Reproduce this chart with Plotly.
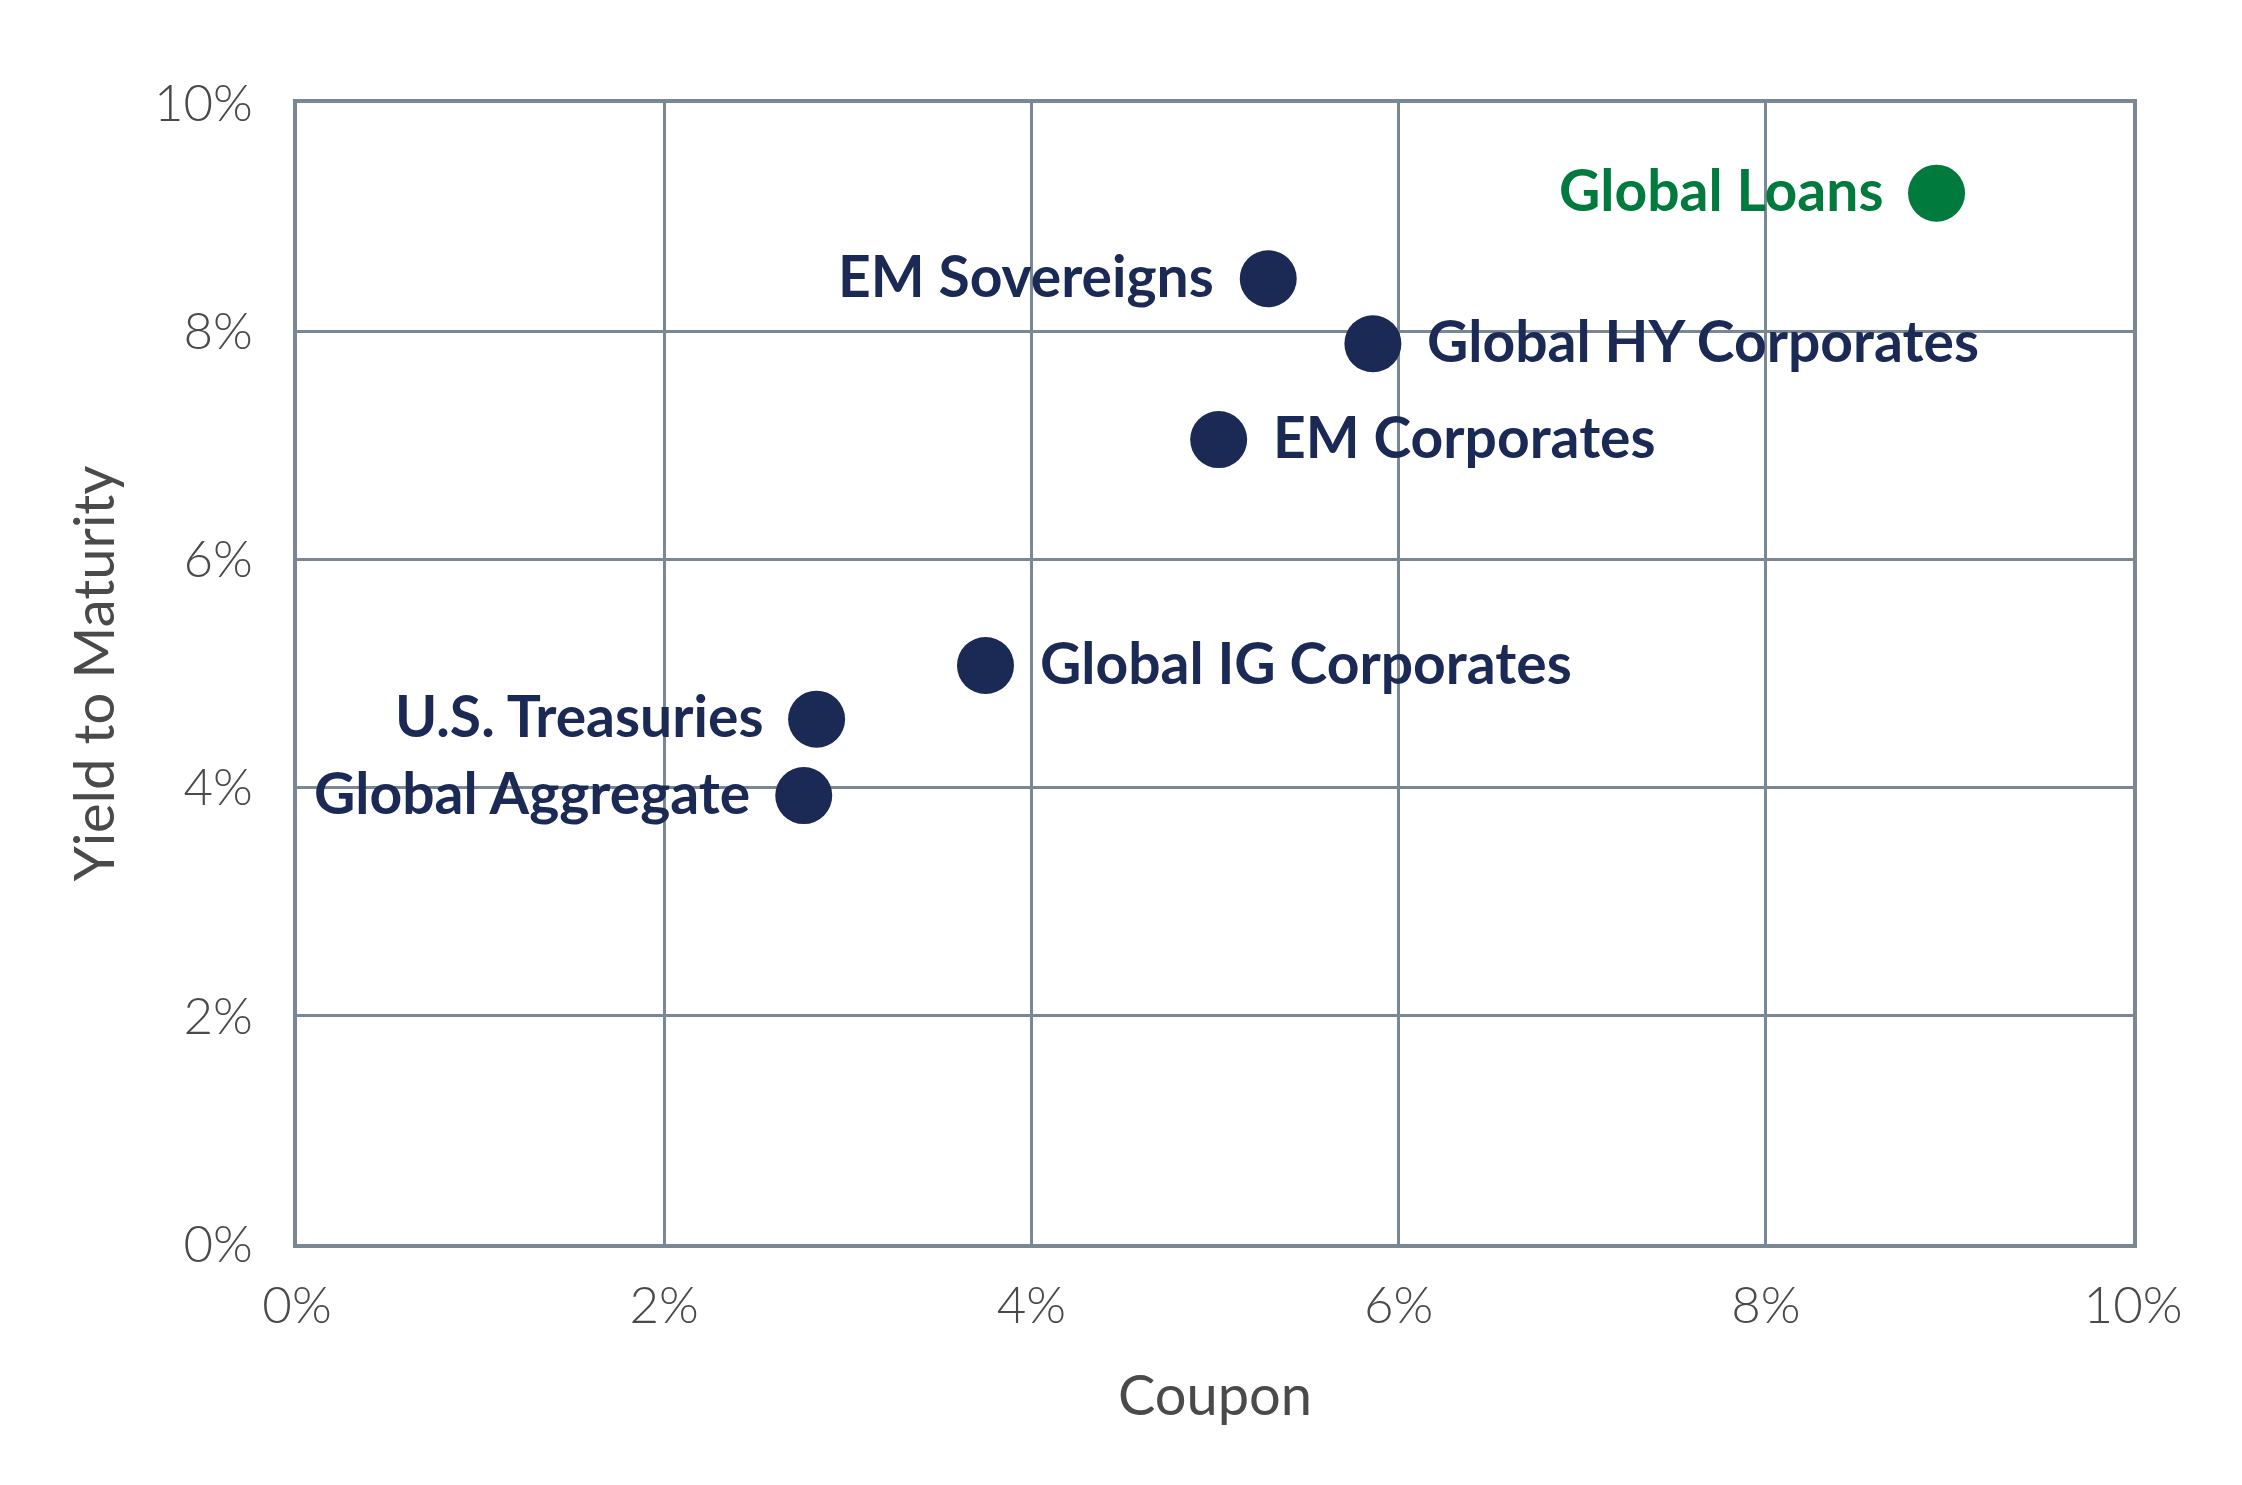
import plotly.graph_objects as go

# Dados
nomes = ["EM Sovereigns", "Global HY Corporates", "EM Corporates",
         "Global IG Corporates", "U.S. Treasuries", "Global Aggregate"]
cupom = [5.29, 5.86, 5.02, 3.75, 2.83, 2.76]
ytm = [8.46, 7.89, 7.05, 5.07, 4.60, 3.93]
lado = ["left", "right", "right", "right", "left", "left"]

loans_nome = ["Global Loans"]
loans_cupom = [8.93]
loans_ytm = [9.21]
loans_lado = ["left"]

ticks = [0, 2, 4, 6, 8, 10]
tick_txt = ["0%", "2%", "4%", "6%", "8%", "10%"]

azul = "#1b2a55"
verde = "#007a3d"
grade = "#7a8896"
cinza = "#4a4a4a"

fig = go.Figure()

fig.add_trace(go.Scatter(
    x=cupom, y=ytm, mode="markers",
    marker=dict(size=57, color=azul),
    cliponaxis=False, showlegend=False, hovertext=nomes,
))

fig.add_trace(go.Scatter(
    x=loans_cupom, y=loans_ytm, mode="markers",
    marker=dict(size=57, color=verde),
    cliponaxis=False, showlegend=False, hovertext=loans_nome,
))

# Rótulos ao lado dos pontos
def rotulos(xs, ys, textos, lados, cor):
    for x, y, t, l in zip(xs, ys, textos, lados):
        fig.add_annotation(
            x=x, y=y, text=t, showarrow=False,
            xanchor="right" if l == "left" else "left", yanchor="middle",
            xshift=-52 if l == "left" else 52, yshift=4,
            font=dict(family="Lato", size=57, color=cor, weight=700),
        )

rotulos(cupom, ytm, nomes, lado, azul)
rotulos(loans_cupom, loans_ytm, loans_nome, loans_lado, verde)

eixo = dict(
    range=[0, 10], tickvals=ticks, ticktext=tick_txt,
    showgrid=True, gridcolor=grade, gridwidth=3,
    zeroline=False, showline=True, linecolor=grade, linewidth=4, mirror=True,
    tickfont=dict(family="Lato", size=51, color=cinza, weight=300),
    title_font=dict(family="Lato", size=56, color=cinza, weight=400),
)

fig.update_layout(
    width=2242, height=1485,
    margin=dict(l=289, r=117, t=95, b=249),
    plot_bgcolor="white", paper_bgcolor="white",
    xaxis=dict(eixo, title=dict(text="Coupon", standoff=44), ticklabelstandoff=14),
    yaxis=dict(eixo, title=dict(text="Yield to Maturity", standoff=22), ticklabelstandoff=30),
)

fig.write_html("out.html")
